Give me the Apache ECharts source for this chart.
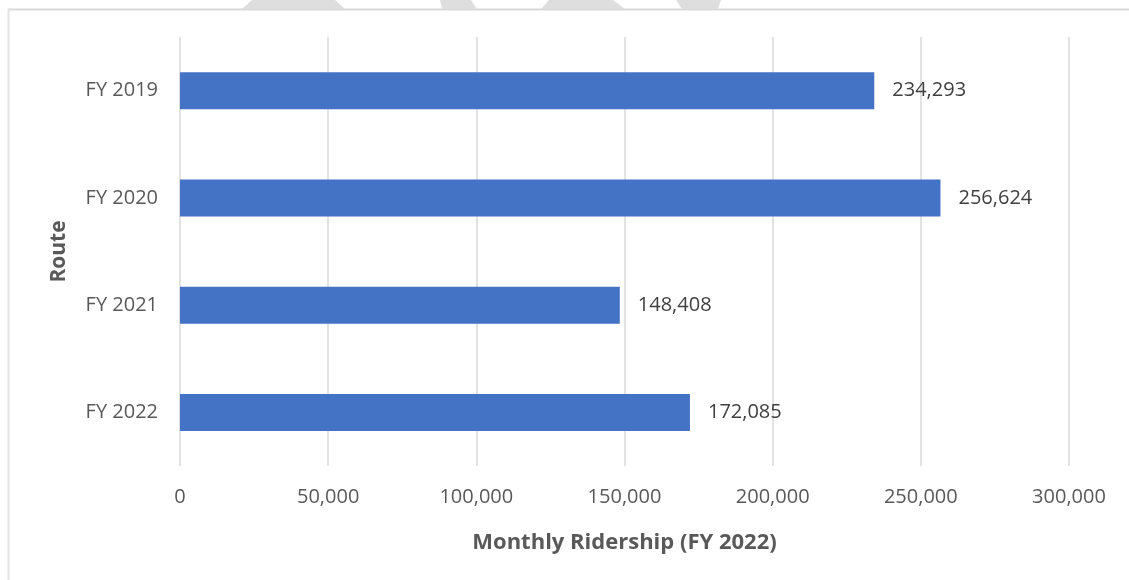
<!DOCTYPE html>
<html style="height: 100%">
<head>
<meta charset="utf-8">
<script src="https://cdn.jsdelivr.net/npm/echarts@6/dist/echarts.min.js"></script>
</head>
<body style="height: 100%; margin: 0; background: #fff;">
<div id="container" style="width: 1129px; height: 580px;"></div>
<script type="text/javascript">
// data
var routes = ['FY 2019', 'FY 2020', 'FY 2021', 'FY 2022'];
var ridership = [234293, 256624, 148408, 172085];
var xTicks = [0, 50000, 100000, 150000, 200000, 250000, 300000];

var chart = echarts.init(document.getElementById('container'));
var txt = '#595959';
var font = '"Open Sans", "Liberation Sans", sans-serif';

function fmt(v) {
    return v.toLocaleString('en-US');
}

var option = {
    animation: false,
    textStyle: { fontFamily: font },
    grid: { left: 180, right: 60, top: 37, bottom: 114 },
    // chart frame and the faint shapes peeking over the top edge
    graphic: [
        { type: 'line', shape: { x1: 8, y1: 9.5, x2: 1129, y2: 9.5 }, style: { stroke: '#d9d9d9', lineWidth: 2 } },
        { type: 'line', shape: { x1: 8.5, y1: 9, x2: 8.5, y2: 580 }, style: { stroke: '#e3e3e3', lineWidth: 2 } },
        { type: 'polygon', shape: { points: [[242, 9], [252, 0], [335, 0], [345, 9]] }, style: { fill: '#dedede' } },
        { type: 'polygon', shape: { points: [[442, 9], [440, 0], [471, 0], [477, 9]] }, style: { fill: '#dedede' } },
        { type: 'polygon', shape: { points: [[541, 9], [549, 0], [613, 0], [625, 9]] }, style: { fill: '#dedede' } },
        { type: 'polygon', shape: { points: [[682, 9], [676, 0], [721, 0], [718, 9]] }, style: { fill: '#dedede' } }
    ],
    xAxis: {
        type: 'value',
        min: 0,
        max: 300000,
        interval: 50000,
        name: 'Monthly Ridership (FY 2022)',
        nameLocation: 'middle',
        nameGap: 66,
        nameTextStyle: { color: txt, fontSize: 22, fontWeight: 'bold', fontFamily: font },
        axisLine: { show: false },
        axisTick: { show: false },
        axisLabel: {
            color: txt, fontSize: 20, margin: 21, fontFamily: font,
            formatter: function (v) { return xTicks.indexOf(v) >= 0 ? fmt(v) : ''; }
        },
        splitLine: { lineStyle: { color: '#d9d9d9', width: 1.5 } }
    },
    yAxis: {
        type: 'category',
        data: routes,
        inverse: true,
        name: 'Route',
        nameLocation: 'middle',
        nameGap: 110,
        nameRotate: 90,
        nameTextStyle: { color: txt, fontSize: 21, fontWeight: 'bold', fontFamily: font },
        axisLine: { show: false },
        axisTick: { show: false },
        axisLabel: { color: txt, fontSize: 20, margin: 22, fontFamily: font }
    },
    series: [{
        type: 'bar',
        data: ridership,
        barWidth: 37,
        itemStyle: { color: '#4472c4' },
        label: {
            show: true,
            position: 'right',
            distance: 18,
            color: '#404040',
            fontSize: 20,
            fontFamily: font,
            formatter: function (p) { return fmt(p.value); }
        }
    }]
};

chart.setOption(option);
</script>
</body>
</html>
